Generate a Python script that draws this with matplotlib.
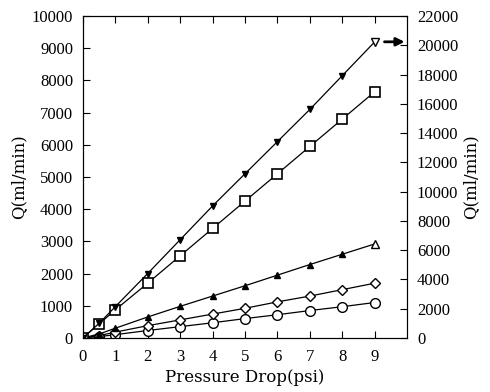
import matplotlib.pyplot as plt

plt.rcParams['font.family'] = ['Liberation Serif', 'DejaVu Serif']

# Pressure drop (psi)
dp = [0, 0.5, 1, 2, 3, 4, 5, 6, 7, 8, 9]

# Flow rates, left axis (ml/min)
q_circle = [0, 40, 100, 230, 350, 470, 600, 720, 850, 970, 1100]
q_diamond = [0, 70, 180, 380, 560, 740, 920, 1120, 1300, 1500, 1700]
q_tri_up = [0, 120, 300, 650, 980, 1300, 1620, 1950, 2280, 2600, 2920]
q_square = [0, 430, 870, 1700, 2550, 3400, 4250, 5100, 5950, 6800, 7650]

# Flow rate, right axis (ml/min)
q_tri_down = [0, 990, 2130, 4400, 6710, 9020, 11220, 13420, 15620, 17930, 20240]

fig = plt.figure(figsize=(4.9, 3.92), dpi=100)
ax = fig.add_axes([0.169, 0.138, 0.662, 0.821])
ax2 = ax.twinx()

lw = 0.9
ax.plot(dp, q_circle, color='black', lw=lw, marker='o', ms=7, mfc='white', mec='black', mew=1)
ax.plot(dp, q_diamond, color='black', lw=lw, marker='D', ms=5, mfc='white', mec='black', mew=1)
ax.plot(dp[:-1], q_tri_up[:-1], color='black', lw=lw, marker='^', ms=5, mfc='black', mec='black')
ax.plot(dp[-2:], q_tri_up[-2:], color='black', lw=lw, marker='^', ms=6, mfc='white', mec='black', markevery=[1])
ax.plot(dp, q_square, color='black', lw=lw, marker='s', ms=7, mfc='white', mec='black', mew=1.2)

ax2.plot(dp[:-1], q_tri_down[:-1], color='black', lw=lw, marker='v', ms=5, mfc='black', mec='black')
ax2.plot(dp[-2:], q_tri_down[-2:], color='black', lw=lw, marker='v', ms=6, mfc='white', mec='black', markevery=[1])

# arrow pointing to the right axis
ax2.annotate('', xy=(9.92, q_tri_down[-1]), xytext=(9.3, q_tri_down[-1]),
             arrowprops=dict(arrowstyle='-|>', color='black', lw=2, mutation_scale=12,
                             shrinkA=0, shrinkB=0))

ax.set_xlim(0, 10)
ax.set_ylim(0, 10000)
ax2.set_ylim(0, 22000)
ax.set_xticks(range(0, 10))
ax.set_yticks(range(0, 10001, 1000))
ax2.set_yticks(range(0, 22001, 2000))

ax.tick_params(axis='x', direction='in', length=5, labelsize=12, top=True, pad=8)
ax.tick_params(axis='y', direction='in', length=5, labelsize=12, pad=7)
ax2.tick_params(axis='y', direction='in', length=5, labelsize=12, pad=7)

lab = dict(fontsize=12, family=['DejaVu Serif'])
ax.set_xlabel('Pressure Drop(psi)', labelpad=3, **lab)
ax.set_ylabel('Q(ml/min)', labelpad=3, **lab)
ax2.set_ylabel('Q(ml/min)', labelpad=3, **lab)

plt.savefig('out.png', dpi=100)
